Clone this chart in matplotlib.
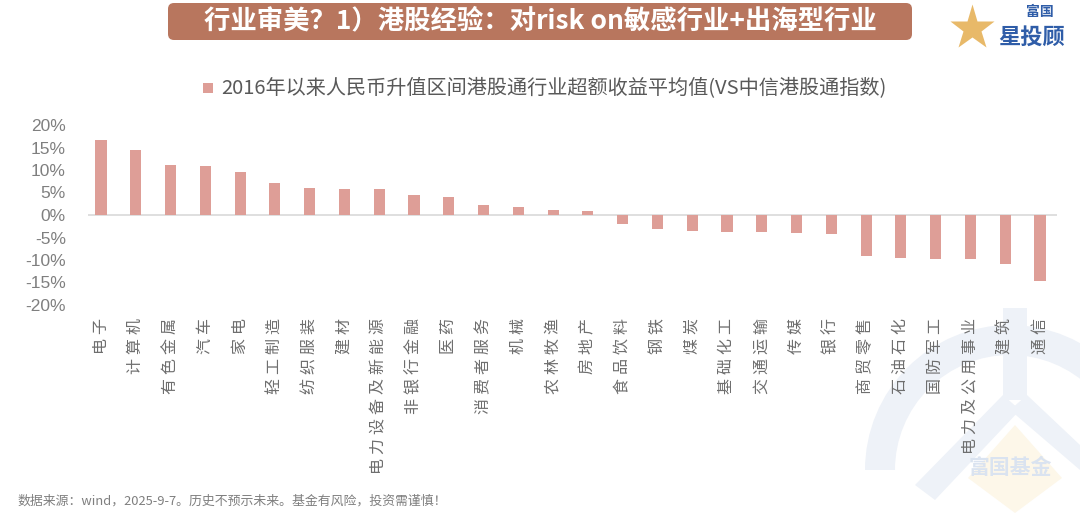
import numpy as np
import matplotlib.pyplot as plt
from matplotlib.patches import FancyBboxPatch, Wedge, Polygon, Rectangle

plt.rcParams['font.family'] = ['Noto Sans CJK SC', 'DejaVu Sans']

industries = ['电子', '计算机', '有色金属', '汽车', '家电', '轻工制造', '纺织服装', '建材',
              '电力设备及新能源', '非银行金融', '医药', '消费者服务', '机械', '农林牧渔',
              '房地产', '食品饮料', '钢铁', '煤炭', '基础化工', '交通运输', '传媒', '银行',
              '商贸零售', '石油石化', '国防军工', '电力及公用事业', '建筑', '通信']
excess = [16.7, 14.5, 11.1, 11.0, 9.6, 7.1, 6.0, 5.8, 5.8, 4.4, 3.9, 2.3, 1.8, 1.2,
          0.9, -2.1, -3.0, -3.6, -3.8, -3.8, -4.1, -4.2, -9.1, -9.6, -9.8, -9.8, -10.9, -14.7]
yticks = [20, 15, 10, 5, 0, -5, -10, -15, -20]

title = '行业审美？1）港股经验：对risk on敏感行业+出海型行业'
series_name = '2016年以来人民币升值区间港股通行业超额收益平均值(VS中信港股通指数)'
source = '数据来源：wind，2025-9-7。历史不预示未来。基金有风险，投资需谨慎！'

bar_color = '#DE9E97'
grey = '#7F7F7F'
W, H = 1080, 513

fig = plt.figure(figsize=(10.8, 5.13), dpi=100)
fig.patch.set_facecolor('white')

# background layer in pixel coordinates (watermark, logo, banner)
bg = fig.add_axes([0, 0, 1, 1], zorder=-5)
bg.set_xlim(0, W)
bg.set_ylim(H, 0)
bg.axis('off')
wm = '#EEF2F8'
bg.add_patch(Wedge((1010, 470), 145, 180, 360, width=30, facecolor=wm, edgecolor='none'))
bg.add_patch(Rectangle((1003, 308), 24, 92, facecolor=wm, edgecolor='none'))
bg.add_patch(Polygon([(1003, 395), (1020, 410), (935, 500), (915, 485)],
                     facecolor=wm, edgecolor='none'))
bg.add_patch(Polygon([(1010, 410), (1027, 395), (1080, 445), (1080, 470)],
                     facecolor=wm, edgecolor='none'))
bg.add_patch(Polygon([(1015, 425), (1062, 478), (1015, 513), (968, 478)],
                     facecolor='#FDF7E9', edgecolor='none'))
bg.text(1010, 467, '富国基金', ha='center', va='center', fontsize=15,
        fontweight='bold', color='#DAE3F0')

# logo
bg.plot([972], [28], marker='*', markersize=34, color='#E8B969', mec='none')
bg.text(1040, 12, '富国', ha='center', va='center', fontsize=10,
        fontweight='bold', color='#2F5DA8')
bg.text(1032, 37, '星投顾', ha='center', va='center', fontsize=16,
        fontweight='bold', color='#2F5DA8', style='italic')

ax = fig.add_axes([88 / W, 1 - 305 / H, 969 / W, 180 / H])
ax.set_facecolor('none')
x = np.arange(len(industries))
ax.bar(x, excess, width=0.32, color=bar_color, zorder=2)
ax.axhline(0, color='#D9D9D9', lw=1.2, zorder=1)
ax.set_xlim(-0.374, 27.49)
ax.set_ylim(-20, 20)
ax.set_yticks(yticks)
ax.set_yticklabels([f'{v}%' for v in yticks], family='Liberation Sans',
                   fontsize=12.5, color=grey)
ax.tick_params(axis='y', length=0, pad=16)
ax.set_xticks(x)
ax.set_xticklabels(['\u2005'.join(n) for n in industries], rotation=90,
                   fontsize=11.5, color='#6E6E6E', va='top', ha='center')
ax.tick_params(axis='x', length=0, pad=9)
for s in ax.spines.values():
    s.set_visible(False)

# title banner
bg.add_patch(FancyBboxPatch((168, 3), 744, 37, boxstyle='round,pad=0,rounding_size=6',
                            facecolor='#B8765E', edgecolor='none'))
fig.text(540 / W, 1 - 21 / H, title, ha='center', va='center', color='white',
         fontsize=19, fontweight='bold')

# series legend
bg.add_patch(Rectangle((203, 83), 10, 10, facecolor=bar_color, edgecolor='none'))
fig.text(221 / W, 1 - 88 / H, series_name, ha='left', va='center',
         fontsize=14.5, color='#595959')

fig.text(17 / W, 1 - 501 / H, source, ha='left', va='center', fontsize=9.3,
         color='#7F7F7F')

fig.savefig('out.png', dpi=100)
